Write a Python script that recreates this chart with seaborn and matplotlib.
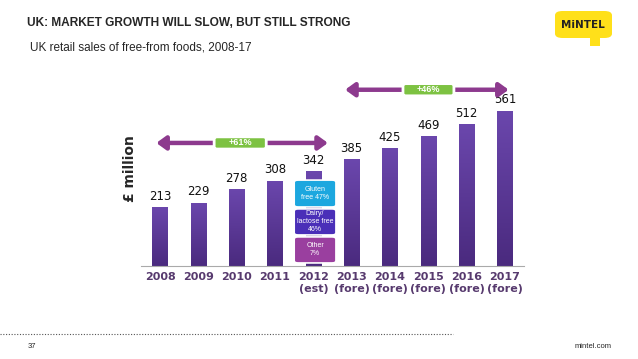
import numpy as np
import pandas as pd
import seaborn as sns
import matplotlib.pyplot as plt
from matplotlib.patches import FancyBboxPatch, Rectangle
from matplotlib.colors import LinearSegmentedColormap

years = ["2008", "2009", "2010", "2011", "2012\n(est)", "2013\n(fore)", "2014\n(fore)",
         "2015\n(fore)", "2016\n(fore)", "2017\n(fore)"]
sales = [213, 229, 278, 308, 342, 385, 425, 469, 512, 561]
segments = ["Gluten\nfree 47%", "Dairy/\nlactose free\n46%", "Other\n7%"]
segment_colors = ["#1ca7df", "#4a2fb8", "#9a3f9f"]
growth_labels = ["+61%", "+46%"]

df = pd.DataFrame({"year": years, "sales": sales})

sns.set_style("white")
plt.rcParams["font.family"] = ["DejaVu Sans"]

fig = plt.figure(figsize=(6.38, 3.59), dpi=100)
ax = fig.add_axes([141 / 638, 1 - 266 / 359, 383 / 638, 194 / 359])

sns.barplot(data=df, x="year", y="sales", color="#5b3a96", width=0.4, ax=ax,
            saturation=1)

# vertical gradient on each bar
cmap = LinearSegmentedColormap.from_list("bar", ["#4a2a7e", "#6b47ad"])
grad = np.linspace(0, 1, 256).reshape(-1, 1)
for p in ax.patches:
    x0, w, h = p.get_x(), p.get_width(), p.get_height()
    im = ax.imshow(grad, cmap=cmap, origin="lower", aspect="auto",
                   extent=[x0, x0 + w, 0, h], zorder=2)
    im.set_clip_path(p)
    ax.annotate(f"{int(h)}", (x0 + w / 2, h), xytext=(0, 3), textcoords="offset points",
                ha="center", va="bottom", fontsize=8.5, color="#111111")

ax.set_xlim(-0.5, 9.5)
ax.set_ylim(0, 700)
ax.set_xlabel("")
ax.set_ylabel("£ million", fontsize=10, fontweight="bold", labelpad=3)
ax.set_yticks([])
for s in ["top", "right", "left"]:
    ax.spines[s].set_visible(False)
ax.spines["bottom"].set_color("#aaaaaa")
ax.set_xticks(np.arange(-0.5, 10, 1), minor=True)
ax.tick_params(axis="x", which="minor", length=4, color="#aaaaaa", direction="out")
ax.tick_params(axis="x", which="major", length=0, pad=4)
for lab in ax.get_xticklabels():
    lab.set_fontweight("bold")
    lab.set_fontsize(8)
    lab.set_color("#573a6e")
    lab.set_linespacing(1.25)

# segment boxes over the 2012 bar
box_y = [(213, 310), (112, 206), (11, 105)]
for (y0, y1), txt, col in zip(box_y, segments, segment_colors):
    ax.add_patch(FancyBboxPatch((3.5, y0), 1.09, y1 - y0,
                                boxstyle="round,pad=0,rounding_size=0.1",
                                mutation_aspect=80, fc=col, ec="white", lw=1.2, zorder=4))
    ax.text(4.045, (y0 + y1) / 2, txt, ha="center", va="center", fontsize=5,
            color="white", family="Liberation Sans", zorder=5, linespacing=1.2)

# growth arrows with green labels
arrow_col = "#8d3a8e"
arrows = [(-0.1, 4.38, 444, 1.41, 2.77), (4.83, 9.1, 636, 6.34, 7.67)]
for (xa, xb, y, bx0, bx1), lab in zip(arrows, growth_labels):
    ax.annotate("", xy=(xa, y), xytext=(xb, y),
                arrowprops=dict(arrowstyle="<|-|>,head_length=0.55,head_width=0.4",
                                color=arrow_col, lw=3.2, shrinkA=0, shrinkB=0),
                annotation_clip=False)
    ax.add_patch(FancyBboxPatch((bx0, y - 22), bx1 - bx0, 44,
                                boxstyle="round,pad=0,rounding_size=0.08",
                                mutation_aspect=80, fc="#7dc242", ec="white", lw=2,
                                zorder=6, clip_on=False))
    ax.text((bx0 + bx1) / 2, y, lab, ha="center", va="center", fontsize=6.5,
            color="white", fontweight="bold", family="Liberation Sans", zorder=7)

# header and footer
fig.text(27 / 638, 1 - 23 / 359, "UK: MARKET GROWTH WILL SLOW, BUT STILL STRONG",
         fontsize=8.6, fontweight="bold", family="Liberation Sans", va="center")
fig.text(30 / 638, 1 - 48 / 359, "UK retail sales of free-from foods, 2008-17",
         fontsize=8.5, family="Liberation Sans", va="center")
fig.text(28 / 638, 1 - 347 / 359, "37", fontsize=5.5, family="Liberation Sans", va="center")
fig.text(612 / 638, 1 - 347 / 359, "mintel.com", fontsize=5.5, family="Liberation Sans",
         va="center", ha="right")
fig.add_artist(plt.Line2D([0, 453 / 638], [1 - 334 / 359] * 2, transform=fig.transFigure,
                          color="#555555", lw=0.8, ls=(0, (1, 1.5))))

# logo
fig.add_artist(FancyBboxPatch((555 / 638, 1 - 38 / 359), 57 / 638, 27 / 359,
                              boxstyle="round,pad=0,rounding_size=0.012",
                              transform=fig.transFigure, fc="#ffe01a", ec="none"))
fig.add_artist(Rectangle((590 / 638, 1 - 46 / 359), 10 / 638, 10 / 359,
                         transform=fig.transFigure, fc="#ffe01a", ec="none"))
fig.text(583 / 638, 1 - 25 / 359, "MiNTEL", fontsize=7.5, fontweight="bold",
         family="DejaVu Sans", ha="center", va="center", color="#222222")

fig.savefig("out.png", dpi=100)
